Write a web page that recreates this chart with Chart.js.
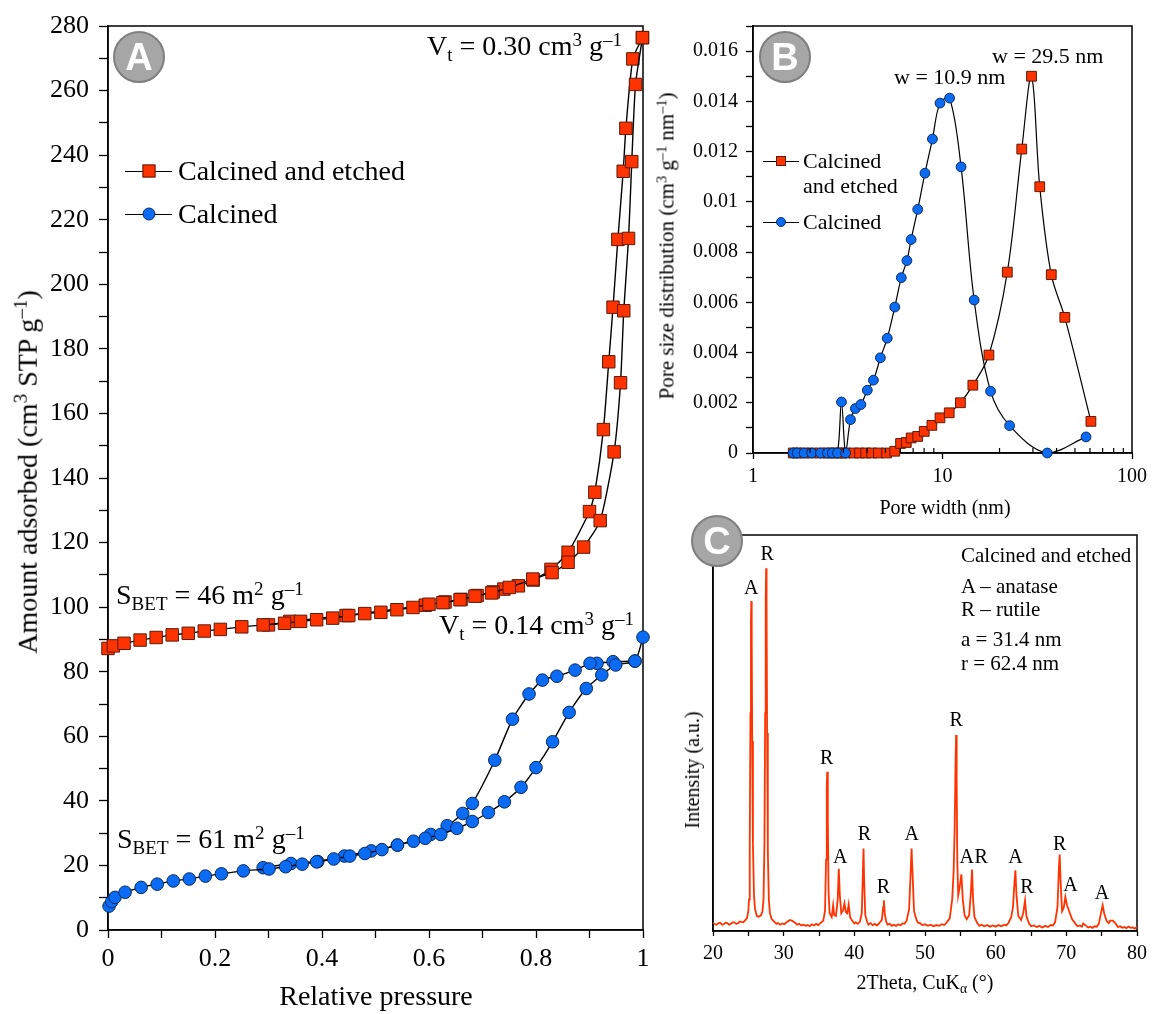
<!DOCTYPE html>
<html>
<head>
<meta charset="utf-8">
<script src="https://cdn.jsdelivr.net/npm/chart.js@4.4.1/dist/chart.umd.min.js"></script>
<style>
  body { margin: 0; background: #fff; width: 1153px; height: 1014px; position: relative; overflow: hidden;
         font-family: "Liberation Serif", "Times New Roman", serif; color: #000; }
  canvas { position: absolute; }
  .t { position: absolute; white-space: nowrap; line-height: 1; }
  .mid { transform: translateY(-50%); }
  .rot { transform: translate(-50%, -50%) rotate(-90deg); }
  .ctr { transform: translate(-50%, -50%); }
  .sb { font-size: 0.68em; vertical-align: -0.3em; }
  .sp { font-size: 0.68em; vertical-align: 0.5em; }
  .badge { position: absolute; width: 48px; height: 48px; border-radius: 50%; background: #a6a6a6;
           border: 2px solid #7f7f7f; transform: translate(-50%, -50%); color: #fff; text-align: center;
           font: bold 38px/48px "Liberation Sans", Arial, sans-serif; }
  .lg { position: absolute; height: 0; border-top: 1.5px solid #000; }
  .lg i { position: absolute; left: 50%; top: -1px; transform: translate(-50%, -50%); }
  .sq { background: #ff3300; border: 1px solid #5c1a0a; }
  .ci { background: #0a6cf5; border: 1px solid #0d2a5c; border-radius: 50%; }
</style>
</head>
<body>
<canvas id="chartA" width="665" height="1014" style="left:0;top:0"></canvas>
<canvas id="chartB" width="493" height="520" style="left:660px;top:0"></canvas>
<canvas id="chartC" width="493" height="494" style="left:660px;top:520px"></canvas>

<!-- panel A texts -->
<div class="t rot" style="left:26px;top:472px;font-size:28px">Amount adsorbed (cm<span class="sp">3</span> STP g<span class="sp">–1</span>)</div>
<div class="t ctr" style="left:376px;top:996px;font-size:28px">Relative pressure</div>
<div class="t mid" style="right:531px;top:47px;font-size:28px">V<span class="sb">t</span> = 0.30 cm<span class="sp">3</span> g<span class="sp">–1</span></div>
<div class="t mid" style="left:116px;top:596px;font-size:28px">S<span class="sb">BET</span> = 46 m<span class="sp">2</span> g<span class="sp">–1</span></div>
<div class="t mid" style="left:439px;top:626px;font-size:28px">V<span class="sb">t</span> = 0.14 cm<span class="sp">3</span> g<span class="sp">–1</span></div>
<div class="t mid" style="left:117px;top:840px;font-size:28px">S<span class="sb">BET</span> = 61 m<span class="sp">2</span> g<span class="sp">–1</span></div>
<div class="lg" style="left:125px;top:171px;width:47px"><i class="sq" style="width:11px;height:11px"></i></div>
<div class="t mid" style="left:178px;top:171px;font-size:28px">Calcined and etched</div>
<div class="lg" style="left:125px;top:214px;width:47px"><i class="ci" style="width:11px;height:11px"></i></div>
<div class="t mid" style="left:178px;top:214px;font-size:28px">Calcined</div>

<!-- panel B texts -->
<div class="t rot" style="left:666px;top:246px;font-size:21px">Pore size distribution (cm<span class="sp">3</span> g<span class="sp">–1</span> nm<span class="sp">–1</span>)</div>
<div class="t ctr" style="left:945px;top:507px;font-size:20px">Pore width (nm)</div>
<div class="t mid" style="left:894px;top:77px;font-size:22px">w = 10.9 nm</div>
<div class="t mid" style="left:992px;top:56px;font-size:22px">w = 29.5 nm</div>
<div class="lg" style="left:763px;top:161px;width:36px"><i class="sq" style="width:8px;height:8px"></i></div>
<div class="t mid" style="left:803px;top:161px;font-size:22px">Calcined</div>
<div class="t mid" style="left:803px;top:186px;font-size:22px">and etched</div>
<div class="lg" style="left:763px;top:222px;width:36px"><i class="ci" style="width:8px;height:8px"></i></div>
<div class="t mid" style="left:803px;top:222px;font-size:22px">Calcined</div>

<!-- panel C texts -->
<div class="t rot" style="left:692px;top:770px;font-size:20px">Intensity (a.u.)</div>
<div class="t ctr" style="left:925px;top:984px;font-size:20px">2Theta, CuK<span class="sb">α</span> (°)</div>
<div class="t mid" style="left:961px;top:555px;font-size:21px">Calcined and etched</div>
<div class="t mid" style="left:961px;top:586px;font-size:21px">A – anatase</div>
<div class="t mid" style="left:961px;top:609px;font-size:21px">R – rutile</div>
<div class="t mid" style="left:961px;top:639px;font-size:21px">a = 31.4 nm</div>
<div class="t mid" style="left:961px;top:663px;font-size:21px">r = 62.4 nm</div>

<div class="badge" style="left:139px;top:57px">A</div>
<div class="badge" style="left:785px;top:57px">B</div>
<div class="badge" style="left:717px;top:541px">C</div>

<script>
// ---- panel A: N2 isotherms [relative pressure, amount adsorbed]
const etchedAdsorption = [[0.000,87.2],[0.010,88.0],[0.030,88.8],[0.060,89.8],[0.090,90.6],[0.120,91.4],[0.150,91.9],
  [0.180,92.6],[0.210,93.1],[0.250,93.9],[0.290,94.5],[0.330,95.0],[0.360,95.6],[0.390,96.1],[0.420,96.6],[0.450,97.4],
  [0.480,98.0],[0.510,98.4],[0.540,99.2],[0.570,99.9],[0.600,100.9],[0.626,101.4],[0.658,102.3],[0.686,103.4],
  [0.717,104.4],[0.750,106.1],[0.794,108.7],[0.830,110.7],[0.860,113.9],[0.889,118.6],[0.920,126.8],[0.946,148.1],
  [0.958,169.5],[0.964,191.8],[0.973,214.2],[0.979,238.0],[0.986,261.9],[0.999,276.4]];
const etchedDesorption = [[0.999,276.4],[0.981,269.8],[0.968,248.3],[0.963,235.0],[0.953,213.9],[0.944,192.9],
  [0.936,176.0],[0.926,155.0],[0.910,135.6],[0.900,129.6],[0.860,117.0],[0.828,111.7],[0.795,108.4],[0.767,106.6],
  [0.740,105.6],[0.720,104.7],[0.690,103.6],[0.660,102.4],[0.630,101.6],[0.593,100.6],[0.445,97.4],[0.340,95.6],[0.300,94.5]];
const calcinedAdsorption = [[0.002,7.4],[0.007,8.8],[0.013,10.1],[0.032,11.7],[0.062,13.2],[0.092,14.2],[0.122,15.2],
  [0.152,15.8],[0.182,16.7],[0.212,17.4],[0.253,18.3],[0.301,18.9],[0.332,19.6],[0.363,20.4],[0.390,21.1],[0.422,22.0],
  [0.452,22.9],[0.480,23.7],[0.512,24.9],[0.541,26.3],[0.571,27.5],[0.593,28.4],[0.622,29.6],[0.652,31.5],[0.681,33.6],
  [0.711,36.4],[0.741,39.7],[0.772,44.2],[0.800,50.3],[0.831,58.3],[0.862,67.4],[0.894,74.8],[0.923,79.0],[0.949,82.1],
  [0.985,83.3],[1.000,90.7]];
const calcinedDesorption = [[0.985,83.3],[0.944,83.1],[0.914,82.6],[0.901,82.6],[0.873,80.5],[0.839,78.6],[0.812,77.4],
  [0.787,73.1],[0.756,65.3],[0.723,52.6],[0.681,39.2],[0.663,36.1],[0.634,32.3],[0.603,29.6],[0.541,26.3],[0.492,24.5],
  [0.442,22.9],[0.392,21.2],[0.342,20.6],[0.290,19.3]];

// ---- panel B: pore size distribution
const etchedWidth = [1.63,1.71,1.86,2.04,2.27,2.47,2.62,2.79,2.93,3.08,3.40,3.65,3.93,4.23,4.59,5.07,
  5.60,6.01,6.44,6.83,7.40,8.01,8.79,9.70,10.85,12.43,14.46,17.58,21.98,26.2,29.5,32.6,37.5,44.2,60.7];
const etchedPsd = [0,0,0,0,0,0,0,0,0,0,0,0,0,0,0,0,
  0.00007,0.00038,0.00042,0.0006,0.00066,0.00086,0.0011,0.0014,0.0016,0.0020,0.0027,0.0039,0.0072,0.0121,0.0150,0.0106,0.0071,0.0054,0.00126];
const calcinedWidth = [1.63,1.71,1.86,2.04,2.27,2.47,2.62,2.79,2.93,3.08,3.27,3.47,3.71,4.01,4.32,4.70,5.11,5.60,
  6.06,6.49,6.83,7.40,8.08,8.85,9.70,10.9,12.53,14.69,17.93,22.6,35.7,57.2];
const calcinedPsd = [0,0,0,0,0,0,0,0,0.00203,0,0.00133,0.00177,0.00193,0.0025,0.0029,0.00379,0.00457,0.00581,
  0.00698,0.00766,0.0085,0.0097,0.01114,0.0125,0.01393,0.01413,0.01139,0.00609,0.00246,0.00109,0,0.00064];
const widthMajorTicks = [1, 10, 100];
const widthMinorTicks = [2,3,4,5,6,7,8,9,20,30,40,50,60,70,80,90];

// ---- panel C: XRD pattern [2theta, intensity a.u.]
const xrdPattern = [[20.0,2.0],[20.3,1.7],[20.5,1.6],[20.8,2.0],[21.0,2.1],[21.3,1.6],[21.5,1.7],[21.8,2.1],[22.0,2.0],
  [22.3,1.6],[22.5,1.8],[22.8,2.2],[23.0,2.2],[23.3,1.8],[23.5,1.9],[23.8,2.4],[24.0,2.3],[24.3,2.2],[24.5,2.6],
  [24.8,3.2],[25.0,5.0],[25.1,8],[25.2,20],[25.3,55],[25.37,78],[25.42,83.3],[25.48,74],[25.55,48],[25.65,22],
  [25.8,9],[25.95,5.5],[26.2,3.8],[26.5,3.6],[26.8,4.0],[27.0,5.0],[27.15,8],[27.28,22],[27.38,55],[27.46,84],
  [27.52,91.6],[27.58,82],[27.66,50],[27.76,20],[27.9,8],[28.05,4.5],[28.3,3.0],[28.7,2.3],[29.0,1.8],[29.2,2.0],
  [29.5,1.6],[29.8,1.9],[30.1,1.7],[30.4,2.2],[30.9,2.8],[31.2,2.6],[31.6,2.1],[31.9,1.6],[32.2,1.8],[32.5,1.4],
  [32.8,1.6],[33.1,1.3],[33.4,1.5],[33.7,1.2],[34.0,1.7],[34.3,1.4],[34.6,1.8],[34.9,1.5],[35.2,2.0],[35.6,2.6],
  [35.85,5],[36.0,18],[36.1,36],[36.16,40.2],[36.25,28],[36.35,10],[36.5,4.5],[36.8,3.5],[37.0,6.5],[37.15,4.0],
  [37.4,3.8],[37.65,8],[37.8,15.7],[37.95,9],[38.15,4.5],[38.4,5.2],[38.6,7.0],[38.8,4.8],[39.0,4.5],[39.2,6.7],
  [39.4,3.5],[39.7,2.6],[40.0,1.9],[40.2,2.2],[40.5,1.8],[40.8,2.4],[41.05,4.5],[41.2,14],[41.3,20.8],[41.4,12],
  [41.55,4],[41.8,2.4],[42.0,1.6],[42.3,2.0],[42.6,1.5],[42.9,1.8],[43.2,1.4],[43.5,1.9],[43.9,2.8],[44.08,6.0],
  [44.18,7.75],[44.3,4.5],[44.5,2.4],[44.7,1.6],[45.0,1.8],[45.3,1.3],[45.6,1.6],[45.9,1.3],[46.2,1.7],[46.5,1.4],
  [46.8,1.9],[47.1,1.8],[47.4,2.6],[47.75,5.5],[47.95,14],[48.1,20.8],[48.25,14],[48.45,5.0],[48.8,2.8],[49.0,2.1],
  [49.3,2.0],[49.6,1.5],[50.0,1.7],[50.4,1.3],[50.8,1.6],[51.2,1.2],[51.6,1.5],[52.0,1.3],[52.4,1.7],[52.7,1.5],
  [53.0,2.0],[53.5,3.2],[53.85,8],[54.05,15],[54.2,26],[54.32,42],[54.4,49.5],[54.48,38],[54.57,18],[54.7,9],
  [54.9,11],[55.15,14.3],[55.35,8],[55.6,4],[55.9,3],[56.25,4],[56.5,10],[56.66,15.5],[56.8,8],[57.0,3.5],[57.4,2.0],
  [57.7,1.3],[58.0,1.6],[58.4,1.2],[58.8,1.5],[59.2,1.1],[59.6,1.4],[60.0,1.1],[60.4,1.5],[60.8,1.2],[61.2,1.6],
  [61.5,1.4],[61.8,2.0],[62.2,3.5],[62.45,6],[62.65,12],[62.79,15.3],[62.95,9],[63.2,3.8],[63.6,2.8],[63.9,4.5],
  [64.16,7.75],[64.35,3.8],[64.7,2.0],[65.0,1.2],[65.4,1.4],[65.8,1.0],[66.2,1.3],[66.6,0.9],[67.0,1.3],[67.4,1.0],
  [67.8,1.5],[68.1,1.4],[68.4,2.2],[68.75,6],[68.95,16],[69.06,19.3],[69.2,12],[69.4,5],[69.65,6],[69.86,8.6],
  [70.1,6.5],[70.4,5.0],[70.8,3.0],[71.3,1.8],[71.6,1.2],[71.9,1.4],[72.2,1.1],[72.4,1.9],[72.8,1.3],[73.1,0.9],
  [73.4,1.1],[73.7,0.8],[74.0,1.2],[74.3,1.1],[74.6,1.8],[74.9,4.5],[75.14,6.5],[75.35,4.5],[75.7,2.5],[76.0,2.0],
  [76.2,2.6],[76.6,2.6],[77.0,1.8],[77.3,1.0],[77.6,1.2],[77.9,0.8],[78.2,1.0],[78.5,0.7],[78.8,1.1],[79.1,0.8],
  [79.4,0.9],[79.7,0.6],[80.0,1.1]];
const peakLetters = ['A','R','R','A','R','R','A','R','A','R','A','R','R','A','A'];
const peakLetterAt = [[25.42,86.4],[27.68,95.0],[36.1,43.6],[38.0,18.5],[41.44,24.2],[44.13,11.0],[48.13,24.2],
  [54.4,53.0],[55.9,18.4],[57.94,18.4],[62.79,18.4],[64.44,11.0],[69.06,21.9],[70.57,11.5],[75.04,9.3]];

Chart.defaults.font.family = '"Liberation Serif", "Times New Roman", serif';
Chart.defaults.color = '#000';

const toXY = pairs => pairs.map(([x, y]) => ({x, y}));
const zipXY = (xs, ys) => xs.map((x, i) => ({x, y: ys[i]}));

const frame = {
  id: 'frame',
  beforeDatasetsDraw(chart) {
    const {ctx, chartArea: a} = chart;
    ctx.save();
    ctx.strokeStyle = '#000';
    ctx.lineWidth = 1.5;
    ctx.strokeRect(a.left, a.top, a.right - a.left, a.bottom - a.top);
    ctx.restore();
  }
};

const tickGrid = len => ({drawOnChartArea: false, drawTicks: true, tickLength: len, tickColor: '#000', tickWidth: 1.3});

function redSet(data, r) {
  return {data, showLine: true, tension: 0.2, borderColor: '#000', borderWidth: 1.4, pointStyle: 'rect',
    pointRadius: r, pointBackgroundColor: '#ff3300', pointBorderColor: '#5c1a0a', pointBorderWidth: 1, clip: false, order: 2};
}
function blueSet(data, r) {
  return {data, showLine: true, tension: 0.2, borderColor: '#000', borderWidth: 1.4, pointStyle: 'circle',
    pointRadius: r, pointBackgroundColor: '#0a6cf5', pointBorderColor: '#0d2a5c', pointBorderWidth: 1, clip: false, order: 1};
}

// panel A
new Chart(document.getElementById('chartA'), {
  type: 'scatter',
  data: {datasets: [
    redSet(toXY(etchedAdsorption), 8.8), redSet(toXY(etchedDesorption), 8.8),
    blueSet(toXY(calcinedAdsorption), 6.3), blueSet(toXY(calcinedDesorption), 6.3)
  ]},
  options: {
    responsive: false, animation: false, events: [],
    layout: {padding: {top: 26, right: 22, left: 0, bottom: 0}},
    plugins: {legend: {display: false}, tooltip: {enabled: false}},
    scales: {
      x: {type: 'linear', min: 0, max: 1,
        ticks: {stepSize: 0.1, autoSkip: false, maxRotation: 0, padding: 6, font: {size: 26},
          callback: v => (Math.round(v * 10) % 2 === 0 ? String(+v.toFixed(1)) : '')},
        grid: tickGrid(8), border: {color: '#000', width: 1.5},
        afterFit: s => { s.height = 84; }},
      y: {min: 0, max: 280,
        ticks: {stepSize: 10, autoSkip: false, padding: 10, font: {size: 26},
          callback: v => (Math.round(v) % 20 === 0 ? String(Math.round(v)) : '')},
        grid: tickGrid(9), border: {color: '#000', width: 1.5},
        afterFit: s => { s.width = 108; }}
    }
  },
  plugins: [frame]
});

// panel B
const logMinor = {
  id: 'logMinor',
  afterDraw(chart) {
    const s = chart.scales.x, ctx = chart.ctx;
    ctx.save();
    ctx.strokeStyle = '#000';
    ctx.lineWidth = 1.2;
    ctx.beginPath();
    widthMinorTicks.forEach(v => {
      const px = s.getPixelForValue(v);
      ctx.moveTo(px, s.top);
      ctx.lineTo(px, s.top - 5);
    });
    ctx.stroke();
    ctx.restore();
  }
};
const redB = redSet(zipXY(etchedWidth, etchedPsd), 6.9);
const blueB = blueSet(zipXY(calcinedWidth, calcinedPsd), 4.9);
redB.tension = 0.35; blueB.tension = 0.35;
redB.borderWidth = 1.2; blueB.borderWidth = 1.2;
new Chart(document.getElementById('chartB'), {
  type: 'scatter',
  data: {datasets: [redB, blueB]},
  options: {
    responsive: false, animation: false, events: [],
    layout: {padding: {top: 26, right: 15, left: 0, bottom: 0}},
    plugins: {legend: {display: false}, tooltip: {enabled: false}},
    scales: {
      x: {type: 'logarithmic', min: 1, max: 100,
        afterBuildTicks: s => { s.ticks = widthMajorTicks.map(v => ({value: v, major: true})); },
        ticks: {autoSkip: false, maxRotation: 0, padding: 6, font: {size: 20}, callback: v => String(v)},
        grid: tickGrid(6), border: {color: '#000', width: 1.5},
        afterFit: s => { s.height = 67; }},
      y: {min: 0, max: 0.017,
        ticks: {stepSize: 0.001, autoSkip: false, padding: 8, font: {size: 20},
          callback: v => { const k = Math.round(v * 1000); return k % 2 === 0 ? String(k / 1000) : ''; }},
        grid: tickGrid(7), border: {color: '#000', width: 1.5},
        afterFit: s => { s.width = 93; }}
    }
  },
  plugins: [frame, logMinor]
});

// panel C
const peakText = {
  id: 'peakText',
  afterDatasetsDraw(chart) {
    const {ctx, scales: {x, y}} = chart;
    ctx.save();
    ctx.font = '20px "Liberation Serif", serif';
    ctx.fillStyle = '#000';
    ctx.textAlign = 'center';
    ctx.textBaseline = 'middle';
    peakLetters.forEach((t, i) => {
      const [tx, ty] = peakLetterAt[i];
      ctx.fillText(t, x.getPixelForValue(tx), y.getPixelForValue(ty));
    });
    ctx.restore();
  }
};
new Chart(document.getElementById('chartC'), {
  type: 'scatter',
  data: {datasets: [{data: toXY(xrdPattern), showLine: true, pointRadius: 0, borderColor: '#ff3300', borderWidth: 1.8, tension: 0}]},
  options: {
    responsive: false, animation: false, events: [],
    layout: {padding: {top: 15, right: 15, left: 0, bottom: 0}},
    plugins: {legend: {display: false}, tooltip: {enabled: false}},
    scales: {
      x: {type: 'linear', min: 20, max: 80,
        ticks: {stepSize: 5, autoSkip: false, maxRotation: 0, padding: 6, font: {size: 20},
          callback: v => (Math.round(v) % 10 === 0 ? String(Math.round(v)) : '')},
        grid: tickGrid(5), border: {color: '#000', width: 1.5},
        afterFit: s => { s.height = 83; }},
      y: {min: 0, max: 100, ticks: {display: false}, grid: {display: false},
        border: {color: '#000', width: 1.5},
        afterFit: s => { s.width = 53; }}
    }
  },
  plugins: [frame, peakText]
});
</script>
</body>
</html>
